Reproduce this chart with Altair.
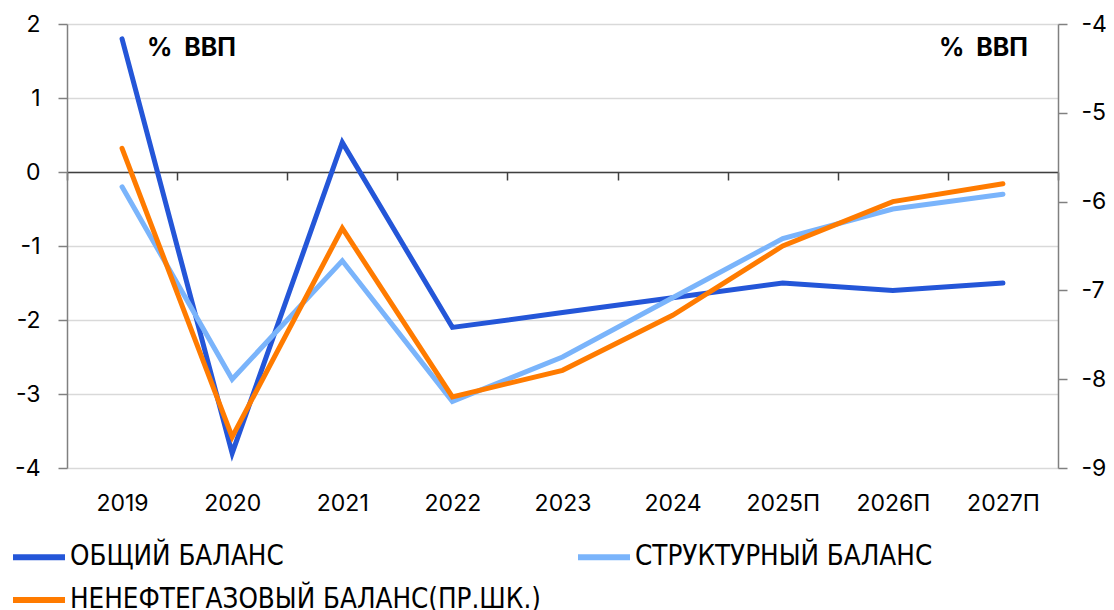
import altair as alt
import pandas as pd

years = ["2019", "2020", "2021", "2022", "2023", "2024", "2025П", "2026П", "2027П"]
total_balance = [1.8, -3.8, 0.4, -2.1, -1.9, -1.7, -1.5, -1.6, -1.5]
structural_balance = [-0.2, -2.8, -1.2, -3.1, -2.5, -1.7, -0.9, -0.5, -0.3]
nonoil_balance = [-5.4, -8.65, -6.3, -8.2, -7.9, -7.28, -6.5, -6.0, -5.8]

series_names = ["ОБЩИЙ БАЛАНС", "СТРУКТУРНЫЙ БАЛАНС", "НЕНЕФТЕГАЗОВЫЙ БАЛАНС(ПР.ШК.)"]
series_colors = ["#2456d8", "#7ab4fb", "#ff7b00"]
left_ticks = [-4, -3, -2, -1, 0, 1, 2]
right_ticks = [-9, -8, -7, -6, -5, -4]
unit_label = "%\u00a0\u00a0ВВП"

rows_left = []
for i, y in enumerate(years):
    rows_left.append({"year": y, "series": series_names[0], "value": total_balance[i], "ord": 0})
    rows_left.append({"year": y, "series": series_names[1], "value": structural_balance[i], "ord": 1})
df_left = pd.DataFrame(rows_left)
df_right = pd.DataFrame({"year": years, "series": series_names[2], "value": nonoil_balance, "ord": 2})

FONT = "Inter"
LEGEND_FONT = "DejaVu Sans Condensed, Liberation Sans, sans-serif"
HYPHEN = "replace(datum.label, '\u2212', '-')"
x_scale = alt.Scale(type="band", domain=years, paddingInner=0, paddingOuter=0)
color = alt.Color(
    "series:N",
    scale=alt.Scale(domain=series_names, range=series_colors),
    legend=alt.Legend(
        title=None,
        orient="none",
        legendX=-57,
        legendY=504,
        direction="horizontal",
        columns=2,
        columnPadding=25,
        rowPadding=-14,
        symbolType="stroke",
        symbolSize=2704,
        symbolStrokeWidth=6,
        labelFont=LEGEND_FONT,
        labelFontSize=27.5,
        labelColor="#000000",
        labelOffset=2,
        labelLimit=1000,
    ),
)

x_axis = alt.Axis(
    title=None,
    orient="bottom",
    offset=-296,
    domainColor="#404040",
    domainWidth=1.5,
    tickColor="#404040",
    tickWidth=1.5,
    tickSize=8,
    tickBand="extent",
    labelAngle=0,
    labelFont=FONT,
    labelFontSize=23,
    labelColor="#000000",
    labelPadding=312,
    grid=False,
)
y_left_axis = alt.Axis(
    title=None,
    values=left_ticks,
    grid=True,
    gridColor="#d9d9d9",
    gridWidth=1.5,
    domainColor="#808080",
    domainWidth=1.5,
    tickColor="#808080",
    tickWidth=1.5,
    tickSize=9,
    labelFont=FONT,
    labelFontSize=23,
    labelColor="#000000",
    labelPadding=18,
    labelExpr=HYPHEN,
)
y_right_axis = alt.Axis(
    title=None,
    orient="right",
    values=right_ticks,
    grid=False,
    domainColor="#808080",
    domainWidth=1.5,
    tickColor="#808080",
    tickWidth=1.5,
    tickSize=9,
    labelFont=FONT,
    labelFontSize=23,
    labelColor="#000000",
    labelPadding=14,
    labelExpr=HYPHEN,
)

y_left_scale = alt.Scale(domain=[-4, 2], nice=False, zero=False)
y_right_scale = alt.Scale(domain=[-9, -4], nice=False, zero=False)

left_lines = alt.Chart(df_left).mark_line(strokeWidth=5, strokeCap="round", strokeJoin="miter").encode(
    x=alt.X("year:N", scale=x_scale, bandPosition=0.5, sort=years, axis=x_axis),
    y=alt.Y("value:Q", scale=y_left_scale, axis=y_left_axis),
    color=color,
    detail="series:N",
    order="ord:Q",
)

left_text = alt.Chart(pd.DataFrame({"t": [unit_label]})).mark_text(
    font=FONT, fontSize=25, fontWeight="bold", align="left", baseline="middle", dx=25, color="#000000"
).encode(
    x=alt.X("x:N", scale=x_scale, bandPosition=0.5, sort=years, axis=x_axis),
    y=alt.Y("y:Q", scale=y_left_scale, axis=y_left_axis),
    text="t:N",
).transform_calculate(x="'2019'", y="1.68")

right_lines = alt.Chart(df_right).mark_line(strokeWidth=5, strokeCap="round", strokeJoin="miter").encode(
    x=alt.X("year:N", scale=x_scale, bandPosition=0.5, sort=years, axis=x_axis),
    y=alt.Y("value:Q", scale=y_right_scale, axis=y_right_axis),
    color=color,
)

right_text = alt.Chart(pd.DataFrame({"t": [unit_label]})).mark_text(
    font=FONT, fontSize=25, fontWeight="bold", align="right", baseline="middle", dx=25, color="#000000"
).encode(
    x=alt.X("x:N", scale=x_scale, bandPosition=0.5, sort=years, axis=x_axis),
    y=alt.Y("y:Q", scale=y_right_scale, axis=y_right_axis),
    text="t:N",
).transform_calculate(x="'2027П'", y="-4.27")

left_layer = alt.layer(left_lines, left_text)
right_layer = alt.layer(right_lines, right_text)

chart = alt.layer(left_layer, right_layer).resolve_scale(y="independent").properties(
    width=991,
    height=444,
    autosize=alt.AutoSizeParams(type="none"),
    padding={"left": 59, "top": 16, "right": 48, "bottom": 144},
    background="#ffffff",
).configure_view(stroke=None)

chart.save("out.html", embed_options={"renderer": "svg", "actions": False})
